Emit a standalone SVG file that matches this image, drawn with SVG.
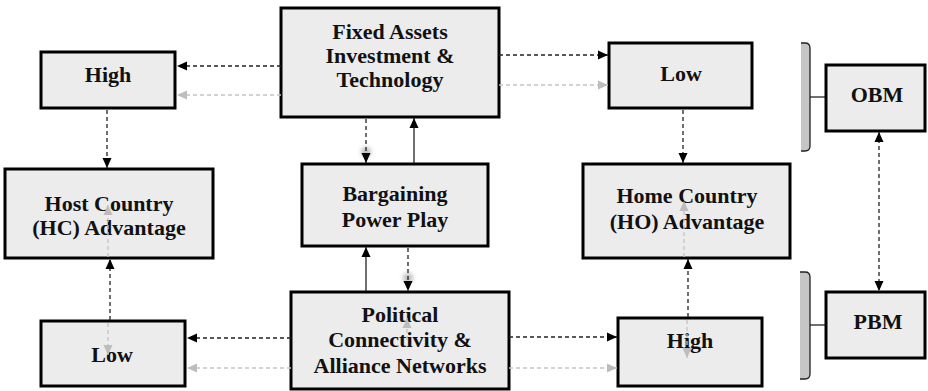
<svg xmlns="http://www.w3.org/2000/svg" width="928" height="391" viewBox="0 0 928 391">
  <defs>
    <style>
      .box { fill: #ececec; stroke: #000; stroke-width: 3; }
      .lbl { font-family: "Liberation Serif", "Times New Roman", serif; font-weight: bold; font-size: 22px; fill: #111; text-anchor: middle; }
      .dash { fill: none; stroke: #222; stroke-width: 1.3; stroke-dasharray: 4 3; }
      .solid { fill: none; stroke: #222; stroke-width: 1.3; }
      .gdash { fill: none; stroke: #c4c4c4; stroke-width: 1.3; stroke-dasharray: 4 3; }
      .glow { fill: none; stroke: #b0b0b0; stroke-width: 7; filter: url(#soft); }
      .brk-fill { fill: #c6c6c6; stroke: none; }
      .brk-edge { fill: none; stroke: #222; stroke-width: 1.3; }
    </style>
    <filter id="soft" x="-50%" y="-50%" width="200%" height="200%">
      <feGaussianBlur stdDeviation="2.2"/>
    </filter>
    <marker id="ah" viewBox="0 0 10 10" refX="10" refY="5" markerWidth="10" markerHeight="10" markerUnits="userSpaceOnUse" orient="auto-start-reverse">
      <path d="M0,0.5 L10,5 L0,9.5 z" fill="#000"/>
    </marker>
    <marker id="gh" viewBox="0 0 10 10" refX="10" refY="5" markerWidth="10" markerHeight="10" markerUnits="userSpaceOnUse" orient="auto-start-reverse">
      <path d="M0,0.5 L10,5 L0,9.5 z" fill="#bdbdbd"/>
    </marker>
  </defs>

  <rect width="928" height="391" fill="#fff"/>

  <!-- brackets grouping the two bands -->
  <g id="bracket-obm">
    <path class="brk-fill" d="M801,43 H805 Q810,43 810,48 V146 Q810,151 805,151 H801 Z"/>
    <path class="brk-edge" d="M801,43 H805 Q810,43 810,48 V146 Q810,151 805,151 H801"/>
    <line class="solid" x1="810" y1="97" x2="826" y2="97"/>
  </g>
  <g id="bracket-pbm">
    <path class="brk-fill" d="M800,272 H805 Q810,272 810,277 V374 Q810,379 805,379 H800 Z"/>
    <path class="brk-edge" d="M800,272 H805 Q810,272 810,277 V374 Q810,379 805,379 H800"/>
    <line class="solid" x1="810" y1="325" x2="826" y2="325"/>
  </g>

  <!-- soft halos under some connectors -->
  <g id="halos">
    <line class="glow" x1="879" y1="136" x2="879" y2="287"/>
    <circle cx="366" cy="152" r="5" fill="#bcbcbc" filter="url(#soft)"/>
    <circle cx="366" cy="200" r="4" fill="#cfcfcf" filter="url(#soft)"/>
    <circle cx="408" cy="242" r="4" fill="#c8c8c8" filter="url(#soft)"/>
    <circle cx="408" cy="278" r="5" fill="#bcbcbc" filter="url(#soft)"/>
  </g>

  <!-- nodes -->
  <g id="high-top">
    <rect class="box" x="41" y="52" width="134" height="56"/>
    <text class="lbl" x="108" y="82">High</text>
  </g>
  <g id="fixed-assets">
    <rect class="box" x="281" y="8" width="218" height="109"/>
    <text class="lbl" x="390" y="39">Fixed Assets</text>
    <text class="lbl" x="390" y="63">Investment &amp;</text>
    <text class="lbl" x="390" y="87">Technology</text>
  </g>
  <g id="low-top">
    <rect class="box" x="609" y="43" width="143" height="65"/>
    <text class="lbl" x="681" y="81">Low</text>
  </g>
  <g id="obm">
    <rect class="box" x="826" y="65" width="99" height="66"/>
    <text class="lbl" x="877" y="102">OBM</text>
  </g>
  <g id="host-country">
    <rect class="box" x="5" y="169" width="208" height="89"/>
    <text class="lbl" x="109" y="211">Host Country</text>
    <text class="lbl" x="109" y="235">(HC) Advantage</text>
  </g>
  <g id="bargaining">
    <rect class="box" x="302" y="164" width="186" height="82"/>
    <text class="lbl" x="395" y="201">Bargaining</text>
    <text class="lbl" x="395" y="227">Power Play</text>
  </g>
  <g id="home-country">
    <rect class="box" x="583" y="164" width="207" height="94"/>
    <text class="lbl" x="687" y="203">Home Country</text>
    <text class="lbl" x="687" y="229">(HO) Advantage</text>
  </g>
  <g id="political">
    <rect class="box" x="291" y="292" width="218" height="97"/>
    <text class="lbl" x="400" y="322">Political</text>
    <text class="lbl" x="400" y="347">Connectivity &amp;</text>
    <text class="lbl" x="400" y="373">Alliance Networks</text>
  </g>
  <g id="low-bottom">
    <rect class="box" x="41" y="321" width="144" height="65"/>
    <text class="lbl" x="112" y="362">Low</text>
  </g>
  <g id="high-bottom">
    <rect class="box" x="618" y="318" width="144" height="68"/>
    <text class="lbl" x="690" y="348">High</text>
  </g>
  <g id="pbm">
    <rect class="box" x="826" y="292" width="99" height="66"/>
    <text class="lbl" x="878" y="329">PBM</text>
  </g>

  <!-- connectors -->
  <g id="connectors">
    <!-- light grey secondary links -->
    <line class="gdash" x1="281" y1="95" x2="177" y2="95" marker-end="url(#gh)"/>
    <line class="gdash" x1="499" y1="85" x2="608" y2="85" marker-end="url(#gh)"/>
    <line class="gdash" x1="291" y1="368" x2="187" y2="368" marker-end="url(#gh)"/>
    <line class="gdash" x1="509" y1="368" x2="617" y2="368" marker-end="url(#gh)"/>
    <line class="gdash" x1="108" y1="257" x2="108" y2="205" marker-end="url(#gh)"/>
    <line class="gdash" x1="108" y1="323" x2="108" y2="355" marker-end="url(#gh)"/>
    <line class="gdash" x1="684" y1="257" x2="684" y2="201" marker-end="url(#gh)"/>
    <line class="gdash" x1="687" y1="320" x2="687" y2="358" marker-end="url(#gh)"/>
    <line class="gdash" x1="407" y1="340" x2="407" y2="318" marker-end="url(#gh)"/>

    <!-- main links -->
    <line class="dash" x1="281" y1="66" x2="177" y2="66" marker-end="url(#ah)"/>
    <line class="dash" x1="499" y1="55" x2="608" y2="55" marker-end="url(#ah)"/>
    <line class="dash" x1="107" y1="110" x2="107" y2="168" marker-end="url(#ah)"/>
    <line class="dash" x1="683" y1="110" x2="683" y2="163" marker-end="url(#ah)"/>
    <line class="dash" x1="366" y1="119" x2="366" y2="163" marker-end="url(#ah)"/>
    <line class="solid" x1="414" y1="163" x2="414" y2="118" marker-end="url(#ah)"/>
    <line class="solid" x1="366" y1="291" x2="366" y2="247" marker-end="url(#ah)"/>
    <line class="dash" x1="408" y1="248" x2="408" y2="291" marker-end="url(#ah)"/>
    <line class="dash" x1="291" y1="338" x2="187" y2="338" marker-end="url(#ah)"/>
    <line class="dash" x1="509" y1="337" x2="617" y2="337" marker-end="url(#ah)"/>
    <line class="dash" x1="110" y1="320" x2="110" y2="259" marker-end="url(#ah)"/>
    <line class="dash" x1="688" y1="317" x2="688" y2="259" marker-end="url(#ah)"/>
    <line class="dash" x1="879" y1="132" x2="879" y2="291" marker-start="url(#ah)" marker-end="url(#ah)"/>
  </g>
</svg>
